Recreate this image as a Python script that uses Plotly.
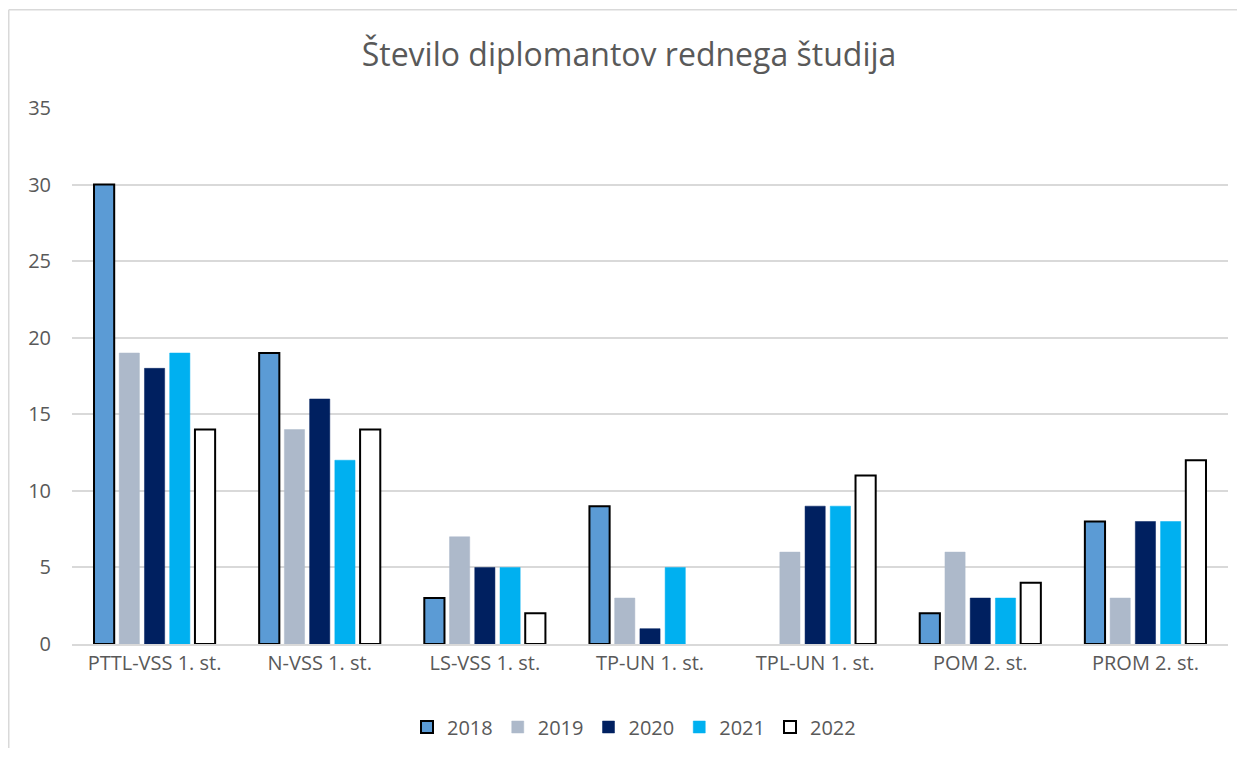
import plotly.graph_objects as go

categories = ["PTTL-VSS 1. st.", "N-VSS 1. st.", "LS-VSS 1. st.", "TP-UN 1. st.",
              "TPL-UN 1. st.", "POM 2. st.", "PROM 2. st."]
years = ["2018", "2019", "2020", "2021", "2022"]
v2018 = [30, 19, 3, 9, None, 2, 8]
v2019 = [19, 14, 7, 3, 6, 6, 3]
v2020 = [18, 16, 5, 1, 9, 3, 8]
v2021 = [19, 12, 5, 5, 9, 3, 8]
v2022 = [14, 14, 2, None, 11, 4, 12]
series = [v2018, v2019, v2020, v2021, v2022]

fills = ["#5B9BD5", "#ADB9CA", "#002060", "#00B0F0", "#FFFFFF"]
lines = ["#000000", "#ADB9CA", "#002060", "#00B0F0", "#000000"]
lwidth = [2, 0.5, 0.5, 0.5, 2]

fig = go.Figure()
for name, vals, fc, lc, lw in zip(years, series, fills, lines, lwidth):
    fig.add_trace(go.Bar(name=name, x=categories, y=vals,
                         marker=dict(color=fc, line=dict(color=lc, width=lw))))

# page body has an 8px margin; work in figure coordinates and avoid page overflow
OFF = 8
W, H = 1229, 740
L, R, T = 64, 9, 100
pw = W - L - R
ph = 536
B = H - T - ph

def px_x(sx):
    return (sx - OFF - L) / pw

def px_y(sy):
    return (H - B - (sy - OFF)) / ph

border = dict(color="#D9D9D9", width=1.5)

fig.update_layout(
    width=W, height=H,
    margin=dict(l=L, r=R, t=T, b=B, autoexpand=False),
    paper_bgcolor="white", plot_bgcolor="white",
    barmode="group", bargap=0.236, bargroupgap=0.2,
    font=dict(family="Open Sans, Liberation Sans, sans-serif", color="#595959"),
    title=dict(text="Število diplomantov rednega študija", x=px_x(629), xref="paper",
               xanchor="center", y=1 - (55 - OFF) / H, yanchor="middle",
               font=dict(size=32, color="#595959")),
    legend=dict(orientation="h", x=(634 - OFF) / W, xref="container", xanchor="center",
                y=1 - (727 - OFF) / H, yref="container", yanchor="middle",
                font=dict(size=20, color="#595959"), traceorder="normal",
                itemwidth=30),
    xaxis=dict(showgrid=False, showline=True, linecolor="#D9D9D9", linewidth=1.5,
               tickfont=dict(size=20, color="#595959"), ticks=""),
    yaxis=dict(range=[0, 35], dtick=5, showgrid=True, gridcolor="#D9D9D9", gridwidth=1.5,
               zeroline=False, tickfont=dict(size=20, color="#595959"), ticks="",
               ticklabelstandoff=20),
    shapes=[
        dict(type="line", xref="paper", yref="paper",
             x0=px_x(8.75), x1=px_x(1245), y0=px_y(9.75), y1=px_y(9.75),
             line=border, layer="below"),
        dict(type="line", xref="paper", yref="paper",
             x0=px_x(8.75), x1=px_x(8.75), y0=px_y(9.75), y1=px_y(760),
             line=border, layer="below"),
    ],
)

fig.write_html("out.html")
